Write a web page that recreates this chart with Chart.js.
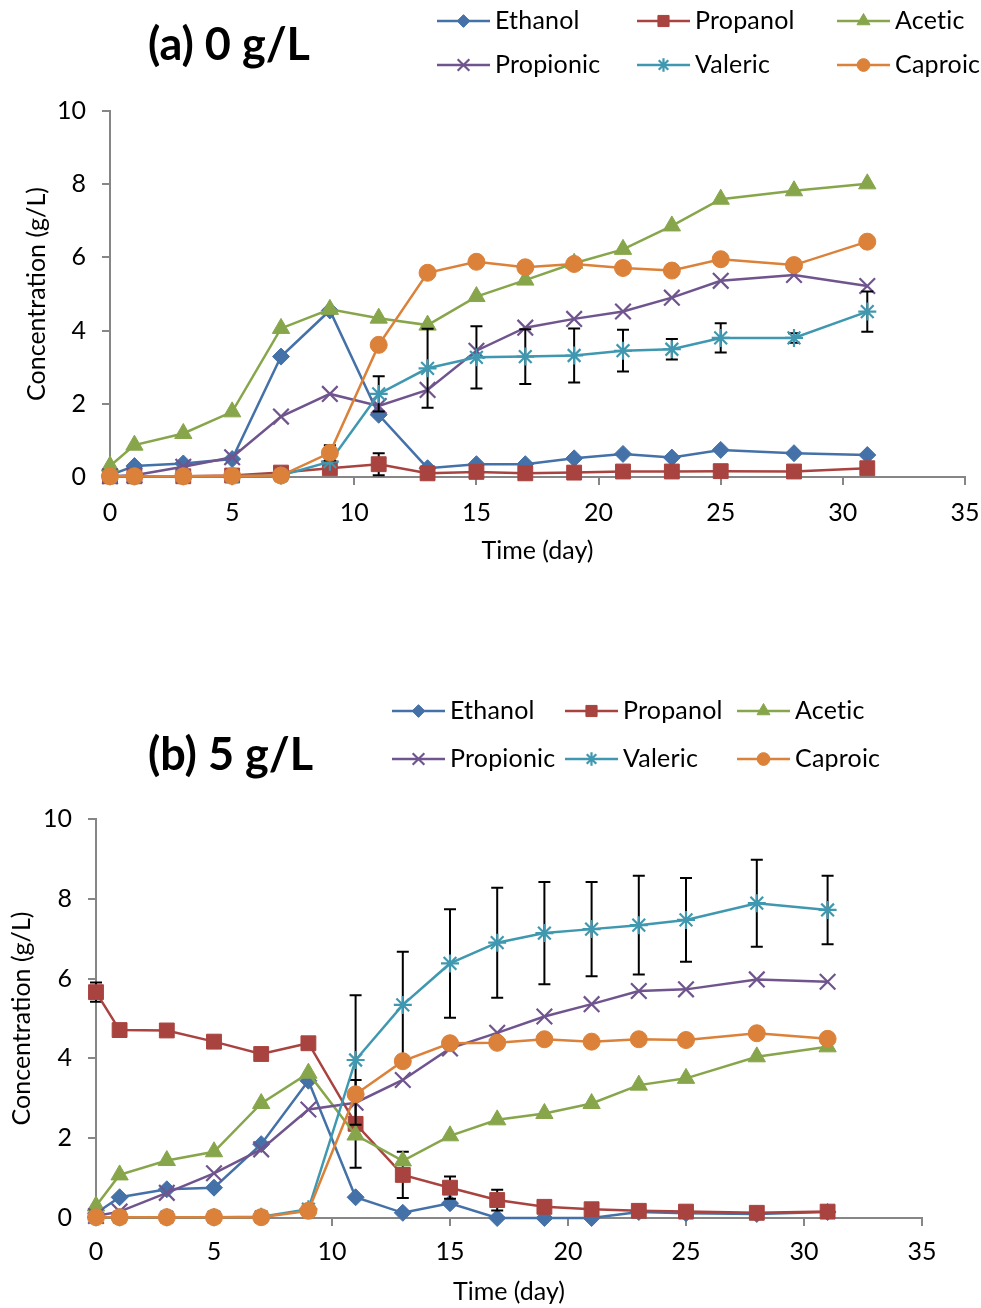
<!DOCTYPE html>
<html>
<head>
<meta charset="utf-8">
<script src="https://cdn.jsdelivr.net/npm/chart.js@4.4.1/dist/chart.umd.min.js"></script>
<style>
  body { margin: 0; background: #fff; }
  .panel { position: absolute; left: 0; width: 981px; height: 654px; }
</style>
</head>
<body>
<div class="panel" style="top:0"><canvas id="chartA" width="981" height="654"></canvas></div>
<div class="panel" style="top:654px"><canvas id="chartB" width="981" height="654"></canvas></div>
<script>
// sampling days (same for both runs)
const days = [0, 1, 3, 5, 7, 9, 11, 13, 15, 17, 19, 21, 23, 25, 28, 31];
const seriesNames = ['Ethanol', 'Propanol', 'Acetic', 'Propionic', 'Valeric', 'Caproic'];
const xTicks = [0, 5, 10, 15, 20, 25, 30, 35];
const yTicks = [0, 2, 4, 6, 8, 10];

// (a) 0 g/L
const ethanolA   = [0.05, 0.30, 0.37, 0.49, 3.29, 4.55, 1.70, 0.24, 0.35, 0.35, 0.51, 0.63, 0.53, 0.74, 0.65, 0.60];
const propanolA  = [0.02, 0.02, 0.02, 0.04, 0.12, 0.24, 0.35, 0.10, 0.14, 0.10, 0.12, 0.15, 0.15, 0.16, 0.15, 0.24];
const aceticA    = [0.30, 0.87, 1.19, 1.78, 4.06, 4.58, 4.34, 4.15, 4.93, 5.38, 5.84, 6.22, 6.86, 7.59, 7.82, 8.01];
const propionicA = [0.02, 0.05, 0.28, 0.54, 1.65, 2.27, 1.94, 2.38, 3.45, 4.08, 4.32, 4.52, 4.90, 5.36, 5.52, 5.22];
const valericA   = [0.02, 0.02, 0.02, 0.02, 0.04, 0.42, 2.27, 2.97, 3.27, 3.29, 3.32, 3.45, 3.49, 3.80, 3.80, 4.52];
const caproicA   = [0.02, 0.02, 0.02, 0.03, 0.04, 0.66, 3.61, 5.58, 5.88, 5.73, 5.82, 5.71, 5.64, 5.95, 5.79, 6.43];
const propanolErrA = [0, 0, 0, 0, 0, 0, 0.30, 0, 0, 0, 0, 0, 0, 0, 0, 0];
const valericErrA  = [0, 0, 0, 0, 0, 0, 0.48, 1.08, 0.85, 0.75, 0.74, 0.57, 0.28, 0.40, 0.13, 0.55];
const caproicErrA  = [0, 0, 0, 0, 0, 0.21, 0, 0, 0, 0, 0, 0, 0, 0, 0, 0];

// (b) 5 g/L
const ethanolB   = [0.12, 0.52, 0.72, 0.76, 1.85, 3.44, 0.52, 0.13, 0.37, 0.00, 0.00, 0.00, 0.15, 0.12, 0.10, 0.15];
const propanolB  = [5.66, 4.71, 4.70, 4.42, 4.11, 4.38, 2.36, 1.08, 0.76, 0.45, 0.28, 0.22, 0.18, 0.16, 0.13, 0.16];
const aceticB    = [0.30, 1.08, 1.44, 1.66, 2.87, 3.63, 2.08, 1.43, 2.06, 2.46, 2.62, 2.87, 3.33, 3.50, 4.04, 4.29];
const propionicB = [0.05, 0.16, 0.63, 1.12, 1.72, 2.72, 2.89, 3.46, 4.25, 4.64, 5.05, 5.36, 5.69, 5.73, 5.98, 5.92];
const valericB   = [0.02, 0.02, 0.02, 0.02, 0.03, 0.22, 3.96, 5.34, 6.38, 6.90, 7.14, 7.24, 7.34, 7.47, 7.89, 7.72];
const caproicB   = [0.02, 0.02, 0.02, 0.02, 0.02, 0.18, 3.10, 3.93, 4.38, 4.39, 4.48, 4.42, 4.48, 4.46, 4.63, 4.49];
const propanolErrB = [0.24, 0, 0, 0, 0, 0, 1.10, 0.58, 0.28, 0.26, 0.10, 0, 0, 0, 0, 0];
const valericErrB  = [0, 0, 0, 0, 0, 0, 1.62, 1.33, 1.36, 1.38, 1.28, 1.18, 1.24, 1.05, 1.09, 0.86];

const colors = ['#4471A8', '#A9433F', '#87A64B', '#6F548E', '#3F98B0', '#DB8139'];
const markers = ['rectRot', 'rect', 'triangle', 'crossRot', 'star', 'circle'];
const markerSizes = [8.5, 10.5, 10, 11, 9, 8.5];
const FONT = 'Lato, "Open Sans", sans-serif';

Chart.defaults.font.family = FONT;
Chart.defaults.font.size = 25;
Chart.defaults.color = '#000';

function buildDatasets(values, errors) {
    return values.map((vals, k) => ({
        label: seriesNames[k],
        data: days.map((d, i) => ({ x: d, y: vals[i] })),
        errors: errors[k],
        borderColor: colors[k],
        backgroundColor: colors[k],
        pointBackgroundColor: colors[k],
        pointBorderColor: colors[k],
        pointStyle: markers[k],
        pointRadius: markerSizes[k],
        pointBorderWidth: (k === 3 || k === 4) ? 2.2 : 1,
        borderWidth: 2.5,
        tension: 0,
        order: 6 - k,
        clip: false
    }));
}

// error bars go under the series' own markers
const errorBars = {
    id: 'errorBars',
    beforeDatasetDraw(chart, args) {
        const ds = chart.data.datasets[args.index];
        if (!ds.errors) return;
        const { ctx, scales: { x, y } } = chart;
        ctx.save();
        ctx.strokeStyle = '#000';
        ctx.lineWidth = 2;
        ds.data.forEach((p, i) => {
            const e = ds.errors[i];
            if (!e) return;
            const px = x.getPixelForValue(p.x);
            const top = y.getPixelForValue(p.y + e);
            const bot = y.getPixelForValue(Math.max(0, p.y - e));
            ctx.beginPath();
            ctx.moveTo(px, top); ctx.lineTo(px, bot);
            ctx.moveTo(px - 6, top); ctx.lineTo(px + 6, top);
            ctx.moveTo(px - 6, bot); ctx.lineTo(px + 6, bot);
            ctx.stroke();
        });
        ctx.restore();
    }
};

// panel title and the two-row legend
const panelLegend = {
    id: 'panelLegend',
    afterDraw(chart, args, opts) {
        const ctx = chart.ctx;
        ctx.save();
        ctx.fillStyle = '#000';
        ctx.textBaseline = 'middle';
        ctx.textAlign = 'left';
        ctx.font = 'bold 45px ' + FONT;
        ctx.fillText(opts.title, opts.titleX, opts.titleY);

        ctx.font = '25px ' + FONT;
        ctx.letterSpacing = '0.2px'; // stops the "ti" ligature in Acetic
        chart.data.datasets.forEach((ds, k) => {
            const lx = opts.cols[k % 3], ly = opts.rows[Math.floor(k / 3)];
            ctx.strokeStyle = ds.borderColor;
            ctx.lineWidth = 2.5;
            ctx.beginPath();
            ctx.moveTo(lx, ly); ctx.lineTo(lx + 53, ly);
            ctx.stroke();
            ctx.fillStyle = ds.backgroundColor;
            ctx.lineWidth = ds.pointBorderWidth;
            Chart.helpers.drawPoint(ctx, {
                pointStyle: ds.pointStyle,
                radius: ds.pointRadius * 0.75,
                borderWidth: ds.pointBorderWidth,
                rotation: 0
            }, lx + 26.5, ly);
            ctx.fillStyle = '#000';
            ctx.fillText(ds.label, lx + 58, ly);
        });
        ctx.restore();
    }
};

function makeChart(id, values, errors, box) {
    const axisGrey = '#868686';
    return new Chart(document.getElementById(id).getContext('2d'), {
        type: 'line',
        data: { datasets: buildDatasets(values, errors) },
        plugins: [errorBars, panelLegend],
        options: {
            responsive: false,
            animation: false,
            events: [],
            layout: { padding: { left: 0, right: box.right, top: box.top, bottom: 0 } },
            plugins: {
                legend: { display: false },
                tooltip: { enabled: false },
                panelLegend: box.legend
            },
            scales: {
                x: {
                    type: 'linear', min: 0, max: 35,
                    afterBuildTicks: s => { s.ticks = xTicks.map(v => ({ value: v })); },
                    afterFit: s => { s.height = box.xHeight; s.paddingLeft = 0; s.paddingRight = 0; },
                    ticks: { padding: box.xTickPad, color: '#000', maxRotation: 0 },
                    grid: { drawOnChartArea: false, drawTicks: true, tickLength: 8, color: axisGrey, lineWidth: 2 },
                    border: { display: true, color: axisGrey, width: 2 },
                    title: { display: true, text: 'Time (day)', color: '#000', padding: { top: 0, bottom: box.xTitlePad } }
                },
                y: {
                    min: 0, max: 10,
                    afterBuildTicks: s => { s.ticks = yTicks.map(v => ({ value: v })); },
                    afterFit: s => { s.width = box.left; s.paddingTop = 0; s.paddingBottom = 0; },
                    ticks: { padding: 16, color: '#000' },
                    grid: { drawOnChartArea: false, drawTicks: true, tickLength: 8, color: axisGrey, lineWidth: 2 },
                    border: { display: true, color: axisGrey, width: 2 },
                    title: { display: true, text: 'Concentration (g/L)', color: '#000', padding: { top: box.yTitlePad, bottom: 0 } }
                }
            }
        }
    });
}

makeChart('chartA',
    [ethanolA, propanolA, aceticA, propionicA, valericA, caproicA],
    [null, propanolErrA, null, null, valericErrA, caproicErrA],
    {
        left: 110, right: 16, top: 111, xHeight: 177, xTickPad: 13, xTitlePad: 88, yTitlePad: 22,
        legend: { title: '(a) 0 g/L', titleX: 148, titleY: 45, cols: [437, 637, 837], rows: [21, 65] }
    });

makeChart('chartB',
    [ethanolB, propanolB, aceticB, propionicB, valericB, caproicB],
    [null, propanolErrB, null, null, valericErrB, null],
    {
        left: 96, right: 59, top: 165, xHeight: 90, xTickPad: 11, xTitlePad: 1, yTitlePad: 7,
        legend: { title: '(b) 5 g/L', titleX: 148, titleY: 101, cols: [392, 565, 737], rows: [57, 105] }
    });
</script>
</body>
</html>
